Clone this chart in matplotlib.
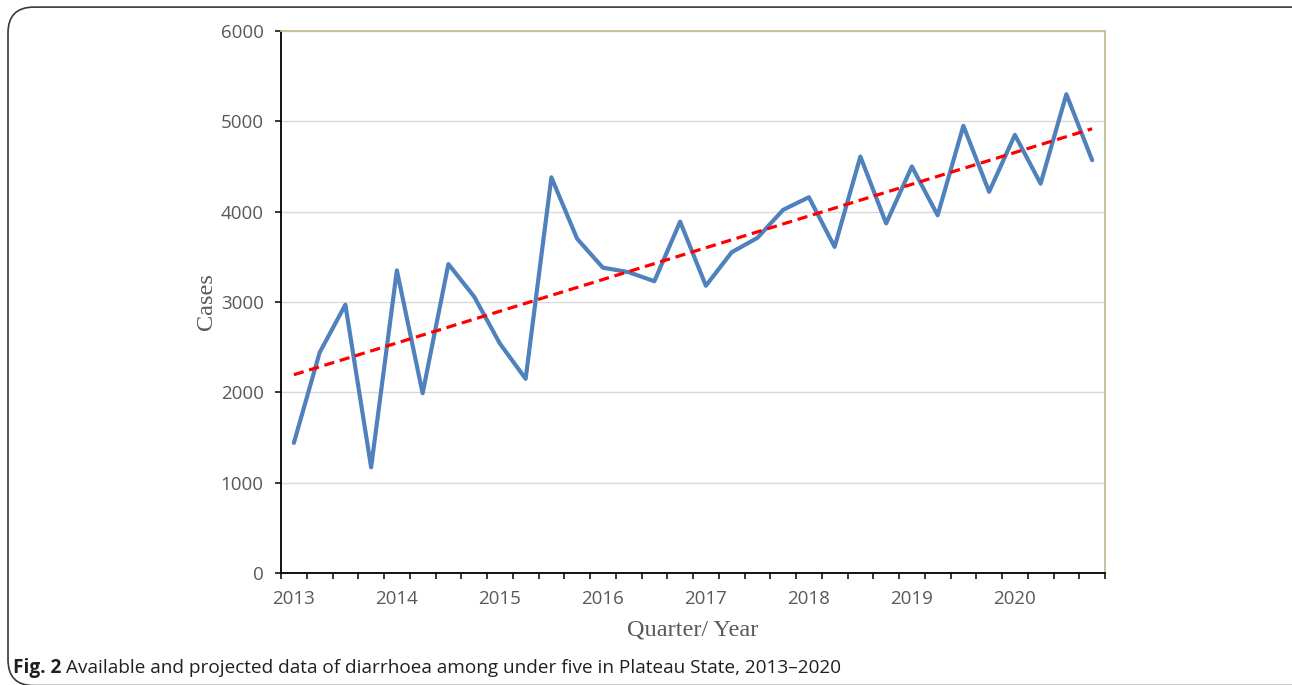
#!/usr/bin/env python3
"""Quarterly diarrhoea cases among under-fives, Plateau State, 2013-2020, with linear trend."""

import numpy as np
import matplotlib

matplotlib.use("Agg")
import matplotlib.pyplot as plt
from matplotlib.patches import FancyBboxPatch


YEARS = ["2013", "2014", "2015", "2016", "2017", "2018", "2019", "2020"]
QUARTERS_PER_YEAR = 4
CASES = [
    1440, 2440, 2970, 1170,
    3350, 1990, 3420, 3060,
    2540, 2150, 4380, 3700,
    3380, 3330, 3230, 3890,
    3180, 3550, 3710, 4020,
    4160, 3610, 4610, 3870,
    4500, 3960, 4950, 4220,
    4850, 4310, 5300, 4570,
]
Y_TICKS = [0, 1000, 2000, 3000, 4000, 5000, 6000]

LINE_BLUE = "#4F81BD"
TREND_RED = "#FF0000"
TEXT_GREY = "#595959"
FRAME_TAN = "#C4BD97"
GRID_GREY = "#D9D9D9"

W, H, DPI = 1292, 685, 100

fig = plt.figure(figsize=(W / DPI, H / DPI), dpi=DPI)
ax = fig.add_axes([281 / W, 1 - 573 / H, (1105 - 281) / W, (573 - 31) / H])

n = len(CASES)
x = np.arange(n) + 0.5

# Excel-style linear trendline over the quarter index
slope, intercept = np.polyfit(np.arange(n), CASES, 1)
trend = intercept + slope * np.arange(n)

ax.plot(x, CASES, color=LINE_BLUE, linewidth=3.0, solid_capstyle="round",
        solid_joinstyle="round", zorder=3)
ax.plot(x, trend, color=TREND_RED, linewidth=2.3, linestyle=(0, (3.2, 1.8)), zorder=4)

ax.set_xlim(0, n)
ax.set_ylim(0, 6000)

ax.set_yticks(Y_TICKS)
ax.set_yticklabels([str(v) for v in Y_TICKS])
ax.yaxis.grid(True, color=GRID_GREY, linewidth=1.0)
ax.set_axisbelow(True)

ax.set_xticks(np.arange(0, n, QUARTERS_PER_YEAR) + 0.5)
ax.set_xticklabels(YEARS)
ax.set_xticks(np.arange(0, n + 1), minor=True)
ax.tick_params(axis="x", which="major", length=0, pad=12)
ax.tick_params(axis="x", which="minor", length=4.5, width=1.1, color="black", direction="out")
ax.tick_params(axis="y", length=4.5, width=1.1, color="black", direction="out", pad=8)
for label in ax.get_xticklabels() + ax.get_yticklabels():
    label.set_fontfamily("Open Sans")
    label.set_fontsize(13.5)
    label.set_color(TEXT_GREY)

for side in ("left", "bottom"):
    ax.spines[side].set_color("black")
    ax.spines[side].set_linewidth(1.3)
for side in ("top", "right"):
    ax.spines[side].set_color(FRAME_TAN)
    ax.spines[side].set_linewidth(1.3)

ax.set_ylabel("Cases", fontfamily="Liberation Serif", fontsize=17.5, color=TEXT_GREY)
ax.set_xlabel("Quarter/ Year", fontfamily="Liberation Serif", fontsize=17.5, color=TEXT_GREY)
ax.yaxis.label.set_va("center")
ax.xaxis.label.set_va("center")
ax.yaxis.set_label_coords((207 - 281) / 824, 0.5)
ax.xaxis.set_label_coords(0.5, -(630 - 573) / 542)

# rounded outer frame of the figure panel
frame = FancyBboxPatch((8 / W, -0.6 / H), (W + 20) / W, (H - 6.5) / H,
                       boxstyle="round,pad=0,rounding_size=0.02",
                       transform=fig.transFigure, fill=False, edgecolor="#3a3a3a",
                       linewidth=1.2, mutation_aspect=W / H)
fig.patches.append(frame)

# caption: bold figure number followed by regular text
renderer = fig.canvas.get_renderer()
bold = fig.text(13 / W, 1 - 673 / H, "Fig. 2", fontfamily="Open Sans", fontweight="bold",
                fontsize=13.7, color="#231F20", va="baseline")
bb = bold.get_window_extent(renderer)
fig.text((bb.x1 + 5) / W, 1 - 673 / H,
         "Available and projected data of diarrhoea among under five in Plateau State, 2013\u20132020",
         fontfamily="Open Sans", fontsize=13.7, color="#231F20", va="baseline")

fig.savefig("out.png", dpi=DPI)
